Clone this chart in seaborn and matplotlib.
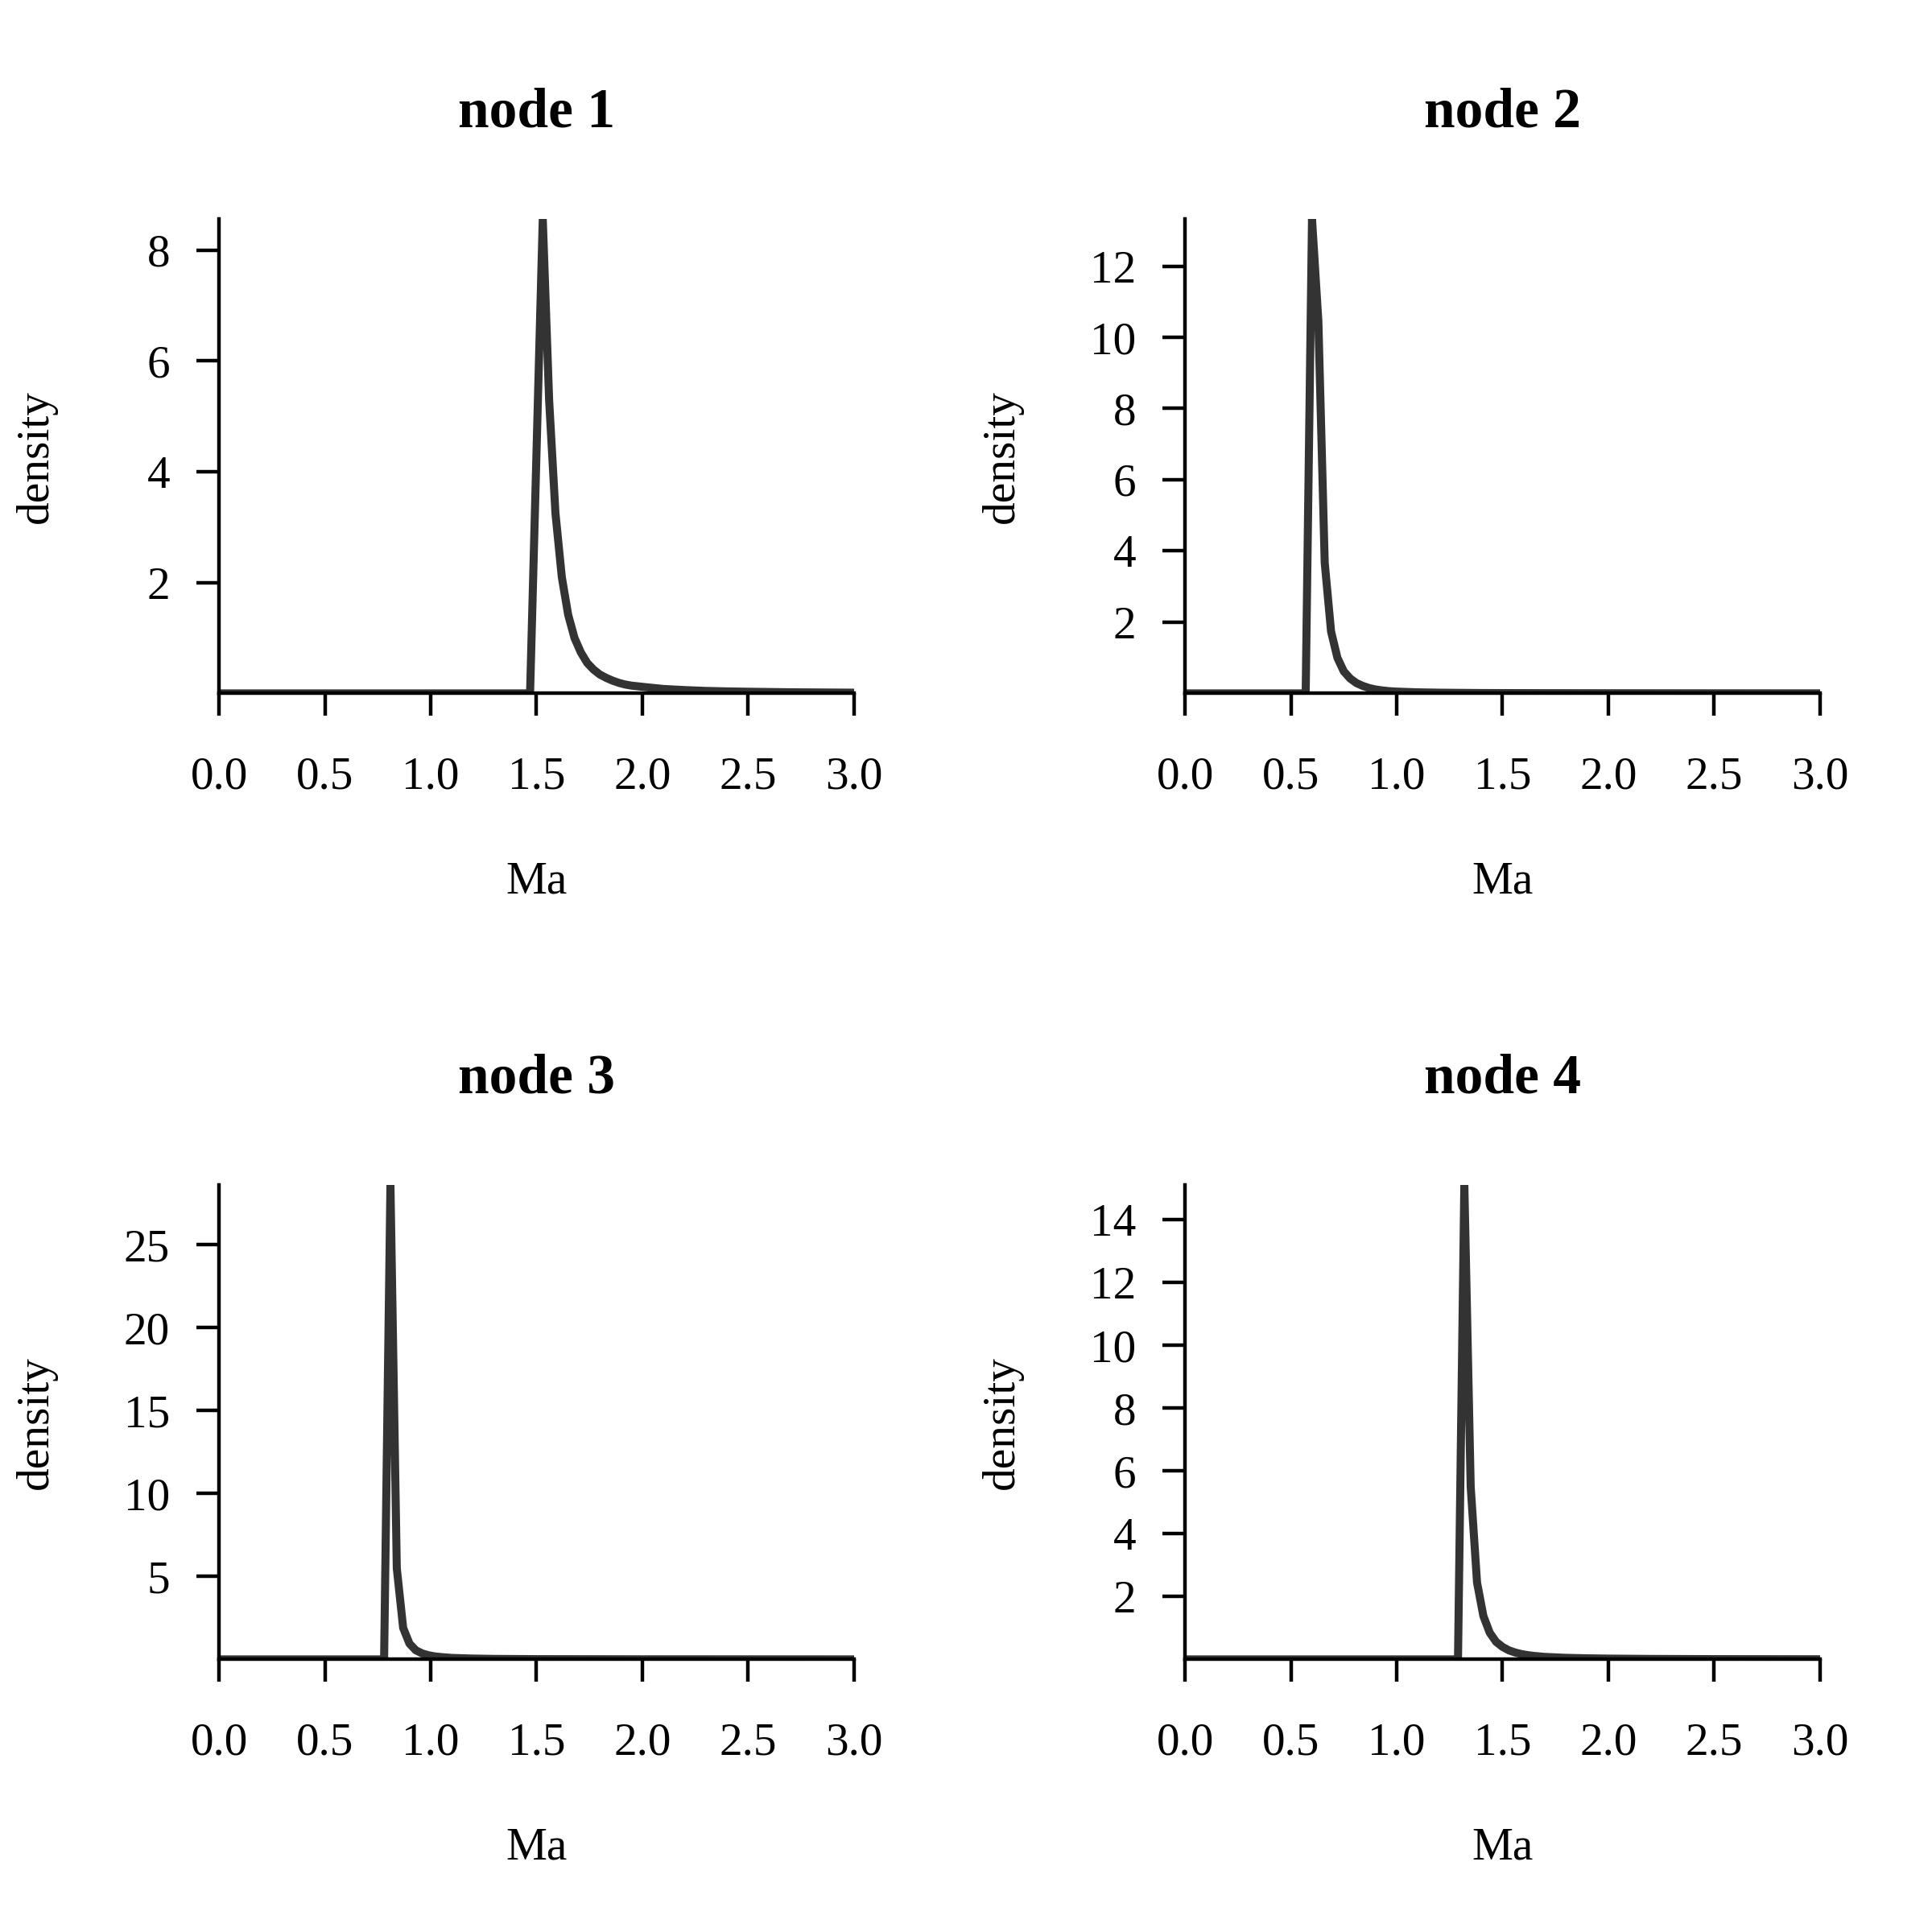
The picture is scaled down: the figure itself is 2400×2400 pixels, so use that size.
import numpy as np
import pandas as pd
import matplotlib
matplotlib.use('Agg')
import matplotlib.pyplot as plt
import seaborn as sns

# Density curves (Ma vs density), one per node
node1_x = [0.00, 1.47, 1.50, 1.53, 1.56, 1.59, 1.62, 1.65, 1.68, 1.71, 1.74, 1.77,
           1.80, 1.83, 1.86, 1.89, 1.92, 1.95, 2.01, 2.10, 2.20, 2.30, 2.40, 2.50,
           2.70, 3.00]
node1_y = [0.0, 0.0, 4.3, 8.56, 5.3, 3.25, 2.1, 1.42, 1.0, 0.74, 0.55, 0.43,
           0.34, 0.28, 0.23, 0.19, 0.16, 0.14, 0.115, 0.08, 0.06, 0.045, 0.036, 0.03,
           0.02, 0.013]

node2_x = [0.00, 0.57, 0.60, 0.63, 0.66, 0.69, 0.72, 0.75, 0.78, 0.81, 0.84, 0.87,
           0.90, 0.93, 0.96, 1.00, 1.10, 1.20, 1.40, 1.70, 2.00, 2.50, 3.00]
node2_y = [0.0, 0.0, 13.32, 10.45, 3.67, 1.74, 1.0, 0.62, 0.42, 0.29, 0.21, 0.15,
           0.11, 0.085, 0.065, 0.05, 0.03, 0.02, 0.01, 0.006, 0.004, 0.002, 0.001]

node3_x = [0.00, 0.78, 0.81, 0.84, 0.87, 0.90, 0.93, 0.96, 0.99, 1.02, 1.05, 1.10,
           1.20, 1.30, 1.50, 2.00, 3.00]
node3_y = [0.0, 0.0, 28.6, 5.5, 1.9, 0.95, 0.55, 0.36, 0.25, 0.18, 0.14, 0.09,
           0.05, 0.03, 0.015, 0.005, 0.001]

node4_x = [0.00, 1.29, 1.32, 1.35, 1.38, 1.41, 1.44, 1.47, 1.50, 1.53, 1.56, 1.59,
           1.62, 1.65, 1.70, 1.80, 1.90, 2.00, 2.20, 2.50, 3.00]
node4_y = [0.0, 0.0, 15.1, 5.5, 2.45, 1.38, 0.85, 0.56, 0.40, 0.29, 0.22, 0.17,
           0.135, 0.11, 0.08, 0.05, 0.035, 0.025, 0.015, 0.008, 0.004]

titles = ['node 1', 'node 2', 'node 3', 'node 4']
xs = [node1_x, node2_x, node3_x, node4_x]
ys = [node1_y, node2_y, node3_y, node4_y]
yticks = [[2, 4, 6, 8],
          [2, 4, 6, 8, 10, 12],
          [5, 10, 15, 20, 25],
          [2, 4, 6, 8, 10, 12, 14]]
xticks = [0.0, 0.5, 1.0, 1.5, 2.0, 2.5, 3.0]

sns.set_style('ticks')
plt.rcParams['font.family'] = ['Liberation Serif', 'DejaVu Serif']
plt.rcParams['axes.linewidth'] = 0.8
plt.rcParams['text.color'] = 'black'
plt.rcParams['axes.labelcolor'] = 'black'

fig, axes = plt.subplots(2, 2, figsize=(6, 6), dpi=400)

# panel boxes (R-like margins, 2x2 layout)
lefts = [0.1134, 0.6134]
bottoms = [0.6411, 0.1411]
w = 0.4419 - 0.1134
h = 0.8866 - 0.6411

for i, ax in enumerate(axes.flat):
    r, c = divmod(i, 2)
    ax.set_position([lefts[c], bottoms[r], w, h])
    df = pd.DataFrame({'Ma': xs[i], 'density': ys[i]})
    sns.lineplot(data=df, x='Ma', y='density', ax=ax, color='#333333',
                 linewidth=1.8, estimator=None, sort=False, zorder=1)
    ax.set_xlim(0, 3)
    ax.set_ylim(0, max(ys[i]))
    ax.set_xticks(xticks)
    ax.set_xticklabels([f'{t:.1f}' for t in xticks])
    ax.set_yticks(yticks[i])
    ax.set_yticklabels([str(t) for t in yticks[i]])
    for s in ['top', 'right']:
        ax.spines[s].set_visible(False)
    for s in ['left', 'bottom']:
        ax.spines[s].set_color('black')
        ax.spines[s].set_zorder(3)
    ax.tick_params(axis='both', direction='out', length=5, width=0.8,
                   color='black', labelsize=10.3, labelcolor='black')
    ax.tick_params(axis='x', pad=9)
    ax.tick_params(axis='y', pad=6)
    ax.set_xlabel('Ma', fontsize=10.3, color='black')
    ax.set_ylabel('density', fontsize=10.3, color='black')
    ax.xaxis.set_label_coords(0.5, -0.397)
    ax.xaxis.label.set_va('center')
    ax.yaxis.set_label_coords(-0.288, 0.5)
    ax.yaxis.label.set_va('center')
    ax.text(0.5, 1.223, titles[i], transform=ax.transAxes, ha='center',
            va='center', fontsize=12.5, fontweight='bold', color='black')
    ax.grid(False)

plt.savefig('out.png', dpi=400, facecolor='white')
